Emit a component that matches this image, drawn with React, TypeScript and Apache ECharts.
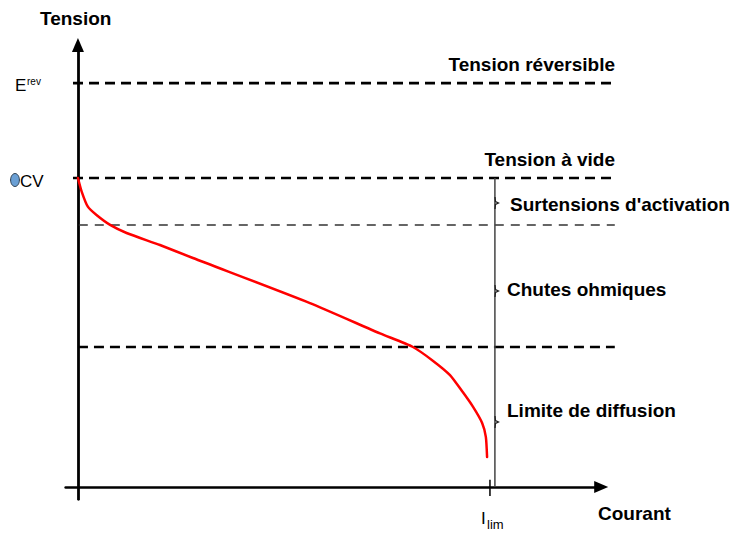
import React, { useEffect, useRef } from "react";
import * as echarts from "echarts";

// Polarisation curve (current, voltage), arbitrary units
const currentValues = [0.0, 0.009, 0.024, 0.045, 0.078, 0.118, 0.199, 0.279, 0.563, 0.733, 0.813, 0.862, 0.903, 0.934, 0.959, 0.981, 0.99, 0.993];
const voltageValues = [1.0, 0.956, 0.907, 0.88, 0.848, 0.822, 0.783, 0.741, 0.595, 0.497, 0.453, 0.408, 0.362, 0.307, 0.259, 0.207, 0.162, 0.097];

// Reference levels
const levelNames = ["Erev", "OCV", "Activation", "Ohmique"];
const levelValues = [1.307, 1.0, 0.848, 0.453];
const levelStarts = [-0.012, -0.012, 0.002, 0.0];
const levelEnd = 1.303;

const currentLimit = 1.0;
const currentBracket = 1.012;

const FONT = '"Liberation Sans", Arial, sans-serif';

const X_MIN = -0.03;
const X_AXIS_MAX = 1.27;
const X_DATA_MAX = 1.304;
const Y_MIN = -0.04;
const Y_MAX = 1.43;
const PX_PER_X = 412;

export default function App() {
  const ref = useRef<HTMLDivElement>(null);
  useEffect(() => {
    if (!ref.current) return;
    const chart = echarts.init(ref.current, null, { renderer: "svg" });
    const curve = currentValues.map((x, i) => [x, voltageValues[i]]);
    const onData = { xAxisIndex: 1, yAxisIndex: 1 };
    const levelSeries = levelNames.map((name, i) => ({
      type: "line",
      name,
      ...onData,
      data: [
        [levelStarts[i], levelValues[i]],
        [levelEnd, levelValues[i]],
      ],
      symbol: "none",
      silent: true,
      lineStyle: {
        color: name === "Activation" ? "#333" : "#000",
        width: name === "Activation" ? 1.4 : 2.6,
        type: name === "Activation" ? [9, 7] : [10, 6],
      },
      z: 2,
    }));
    const bold = (text: string, x: number, y: number, align: string) => ({
      type: "text",
      x,
      y,
      style: {
        text,
        fill: "#000",
        font: `bold 19px ${FONT}`,
        textAlign: align,
        textVerticalAlign: "middle",
      },
    });
    const brace = (y: number) => ({
      type: "polyline",
      shape: {
        points: [
          [495, y - 6],
          [495.5, y - 1.5],
          [498.5, y],
          [495.5, y + 1.5],
          [495, y + 6],
        ],
      },
      style: { stroke: "#222", lineWidth: 1.3, fill: null },
      z: 10,
    });
    const hiddenAxis = {
      type: "value",
      axisLine: { show: false },
      axisTick: { show: false },
      axisLabel: { show: false },
      splitLine: { show: false },
    };
    const gridLeft = 65.6;
    const gridTop = 45.1;
    const gridHeight = (Y_MAX - Y_MIN) * 309;
    chart.setOption({
      animation: false,
      grid: [
        { left: gridLeft, top: gridTop, width: (X_AXIS_MAX - X_MIN) * PX_PER_X, height: gridHeight, containLabel: false, outerBoundsMode: "none" },
        { left: gridLeft, top: gridTop, width: (X_DATA_MAX - X_MIN) * PX_PER_X, height: gridHeight, containLabel: false, outerBoundsMode: "none" },
      ],
      xAxis: [
        {
          type: "value",
          gridIndex: 0,
          min: X_MIN,
          max: X_AXIS_MAX,
          axisLine: {
            onZero: true,
            symbol: ["none", "triangle"],
            symbolSize: [12, 14],
            lineStyle: { color: "#000", width: 2.5 },
          },
          axisTick: { show: false },
          axisLabel: { show: false },
          splitLine: { show: false },
        },
        { ...hiddenAxis, gridIndex: 1, min: X_MIN, max: X_DATA_MAX },
      ],
      yAxis: [
        {
          type: "value",
          gridIndex: 0,
          min: Y_MIN,
          max: Y_MAX,
          axisLine: {
            onZero: true,
            symbol: ["none", "triangle"],
            symbolSize: [12, 14],
            lineStyle: { color: "#000", width: 2.8 },
          },
          axisTick: { show: false },
          axisLabel: { show: false },
          splitLine: { show: false },
        },
        { ...hiddenAxis, gridIndex: 1, min: Y_MIN, max: Y_MAX },
      ],
      series: [
        ...levelSeries,
        {
          type: "line",
          name: "Limite",
          ...onData,
          data: [
            [currentBracket, levelValues[1]],
            [currentBracket, 0],
          ],
          symbol: "none",
          silent: true,
          lineStyle: { color: "#444", width: 1.5 },
          z: 3,
        },
        {
          type: "line",
          name: "Ilim tick",
          ...onData,
          data: [
            [currentLimit, 0.023],
            [currentLimit, -0.029],
          ],
          symbol: "none",
          silent: true,
          lineStyle: { color: "#000", width: 1.5 },
          z: 3,
        },
        {
          type: "line",
          name: "Tension",
          ...onData,
          data: curve,
          symbol: "none",
          smooth: 0.2,
          silent: true,
          lineStyle: { color: "#ff0000", width: 2.5, join: "round", cap: "round" },
          z: 4,
        },
      ],
      graphic: [
        bold("Tension", 40, 18, "left"),
        bold("Tension réversible", 615, 64, "right"),
        bold("Tension à vide", 615, 159, "right"),
        bold("Surtensions d'activation", 510, 204, "left"),
        bold("Chutes ohmiques", 507, 289, "left"),
        bold("Limite de diffusion", 507, 410, "left"),
        bold("Courant", 598, 513, "left"),
        brace(203),
        brace(291),
        brace(422),
        {
          type: "text",
          x: 15,
          y: 85,
          style: { text: "E", fill: "#000", font: `17px ${FONT}`, textAlign: "left", textVerticalAlign: "middle" },
        },
        {
          type: "text",
          x: 27,
          y: 81,
          style: { text: "rev", fill: "#000", font: `10px ${FONT}`, textAlign: "left", textVerticalAlign: "middle" },
        },
        {
          type: "ellipse",
          shape: { cx: 15, cy: 180, rx: 4.4, ry: 6.5 },
          style: { fill: "#6a9fd4", stroke: "#2a3a4a", lineWidth: 1 },
        },
        {
          type: "text",
          x: 20,
          y: 181,
          style: { text: "CV", fill: "#000", font: `17px ${FONT}`, textAlign: "left", textVerticalAlign: "middle" },
        },
        {
          type: "text",
          x: 481,
          y: 518,
          style: { text: "I", fill: "#000", font: `17px ${FONT}`, textAlign: "left", textVerticalAlign: "middle" },
        },
        {
          type: "text",
          x: 487,
          y: 524,
          style: { text: "lim", fill: "#000", font: `13px ${FONT}`, textAlign: "left", textVerticalAlign: "middle" },
        },
      ],
    });
    return () => chart.dispose();
  }, []);
  return <div ref={ref} style={{ position: "fixed", left: 0, top: 0, width: 735, height: 533, background: "#fff" }} />;
}
